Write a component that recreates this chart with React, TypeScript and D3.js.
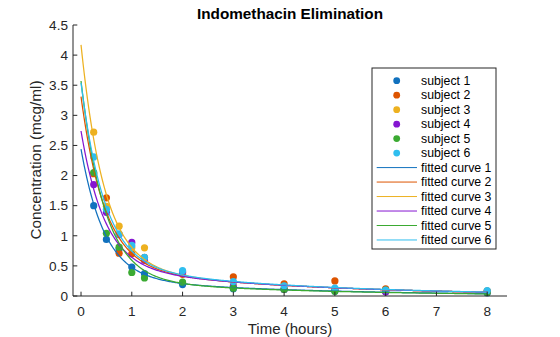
import React from "react";
import * as d3 from "d3";

// Sampling times (hours)
const times = [0.25, 0.5, 0.75, 1, 1.25, 2, 3, 4, 5, 6, 8];

// Measured concentrations (mcg/ml) per subject
const subject1 = [1.5, 0.94, 0.78, 0.48, 0.37, 0.19, 0.12, 0.11, 0.08, 0.07, 0.05];
const subject2 = [2.03, 1.63, 0.71, 0.7, 0.64, 0.36, 0.32, 0.2, 0.25, 0.12, 0.08];
const subject3 = [2.72, 1.49, 1.16, 0.8, 0.8, 0.39, 0.22, 0.12, 0.11, 0.08, 0.08];
const subject4 = [1.85, 1.39, 1.02, 0.89, 0.59, 0.4, 0.16, 0.11, 0.1, 0.07, 0.07];
const subject5 = [2.05, 1.04, 0.81, 0.39, 0.3, 0.23, 0.13, 0.11, 0.08, 0.1, 0.06];
const subject6 = [2.31, 1.44, 1.03, 0.84, 0.64, 0.42, 0.24, 0.17, 0.13, 0.1, 0.09];
const subjects = [subject1, subject2, subject3, subject4, subject5, subject6];

// Fitted bi-exponential model parameters per subject: c = A e^{-k1 t} + B e^{-k2 t}
const slowAmplitude = [0.3, 0.5, 0.5, 0.5, 0.28, 0.52];
const fastAmplitude = [2.14, 2.81, 3.67, 2.24, 3.29, 3.02];
const slowRate = 0.26;
const fastRate = 2.166;

const subjectLabels = ["subject 1", "subject 2", "subject 3", "subject 4", "subject 5", "subject 6"];
const curveLabels = ["fitted curve 1", "fitted curve 2", "fitted curve 3", "fitted curve 4", "fitted curve 5", "fitted curve 6"];
const colors = ["#1171BE", "#DD5400", "#EDB120", "#8516D1", "#3BAA32", "#2FBEEF"];

const xTicks = [0, 1, 2, 3, 4, 5, 6, 7, 8];
const yTicks = [0, 0.5, 1, 1.5, 2, 2.5, 3, 3.5, 4, 4.5];

const W = 560;
const H = 337;
const FONT = "'Liberation Sans', Arial, Helvetica, sans-serif";
const INK = "#262626";

export default function App() {
  const x = d3.scaleLinear().domain([-0.158, 8.39]).range([73, 507]);
  const y = d3.scaleLinear().domain([0, 4.5]).range([296, 25]);
  const [x0, x1] = x.range();
  const [y0, y1] = y.range();

  const tGrid = d3.range(0, 8.0001, 0.02);
  const line = d3
    .line<number[]>()
    .x((d) => x(d[0]))
    .y((d) => y(d[1]));

  const curves = slowAmplitude.map((A, i) =>
    tGrid.map((t) => [t, A * Math.exp(-slowRate * t) + fastAmplitude[i] * Math.exp(-fastRate * t)])
  );

  const legX = 372;
  const legY = 68;
  const legW = 124;
  const rowH = 14.48;
  const firstRow = 80.7;

  return (
    <svg
      width={W}
      height={H}
      style={{ position: "absolute", left: 0, top: 0, background: "#fff" }}
      fontFamily={FONT}
    >
      <rect x={0} y={0} width={W} height={H} fill="#fff" />
      {/* points */}
      {subjects.map((vals, i) =>
        vals.map((v, j) => (
          <circle key={`p${i}-${j}`} cx={x(times[j])} cy={y(v)} r={3.6} fill={colors[i]} />
        ))
      )}
      {/* curves */}
      {curves.map((c, i) => (
        <path key={`c${i}`} d={line(c) || ""} fill="none" stroke={colors[i]} strokeWidth={1.25} />
      ))}
      {/* axes */}
      <line x1={x0} x2={x1} y1={y0} y2={y0} stroke={INK} strokeWidth={1} />
      <line x1={x0} x2={x0} y1={y0} y2={y1} stroke={INK} strokeWidth={1} />
      {xTicks.map((t) => (
        <g key={`xt${t}`}>
          <line x1={x(t)} x2={x(t)} y1={y0} y2={y0 - 4.3} stroke={INK} strokeWidth={1} />
          <text x={x(t)} y={315.5} textAnchor="middle" fontSize={13.6} fill={INK}>
            {t}
          </text>
        </g>
      ))}
      {yTicks.map((t) => (
        <g key={`yt${t}`}>
          <line x1={x0} x2={x0 + 4.3} y1={y(t)} y2={y(t)} stroke={INK} strokeWidth={1} />
          <text x={68} y={y(t) + 4.8} textAnchor="end" fontSize={13.6} fill={INK}>
            {t}
          </text>
        </g>
      ))}
      {/* labels */}
      <text x={290} y={19} textAnchor="middle" fontSize={15.3} fontWeight="bold" fill="#000">
        Indomethacin Elimination
      </text>
      <text x={290} y={334} textAnchor="middle" fontSize={15} fill={INK}>
        Time (hours)
      </text>
      <text
        transform={`translate(41,160) rotate(-90)`}
        textAnchor="middle"
        fontSize={15.3}
        fill={INK}
      >
        Concentration (mcg/ml)
      </text>
      {/* legend */}
      <rect x={legX} y={legY} width={legW} height={181} fill="#fff" stroke={INK} strokeWidth={1} />
      {subjectLabels.map((s, i) => (
        <g key={`ls${i}`}>
          <circle cx={396.7} cy={firstRow + i * rowH} r={3.4} fill={colors[i]} />
          <text x={421} y={firstRow + i * rowH + 4.3} fontSize={12.3} fill="#000">
            {s}
          </text>
        </g>
      ))}
      {curveLabels.map((s, i) => {
        const cy = firstRow + (i + 6) * rowH;
        return (
          <g key={`lc${i}`}>
            <line x1={376.7} x2={417} y1={cy} y2={cy} stroke={colors[i]} strokeWidth={1} />
            <text x={421} y={cy + 4.3} fontSize={12.3} fill="#000">
              {s}
            </text>
          </g>
        );
      })}
    </svg>
  );
}
